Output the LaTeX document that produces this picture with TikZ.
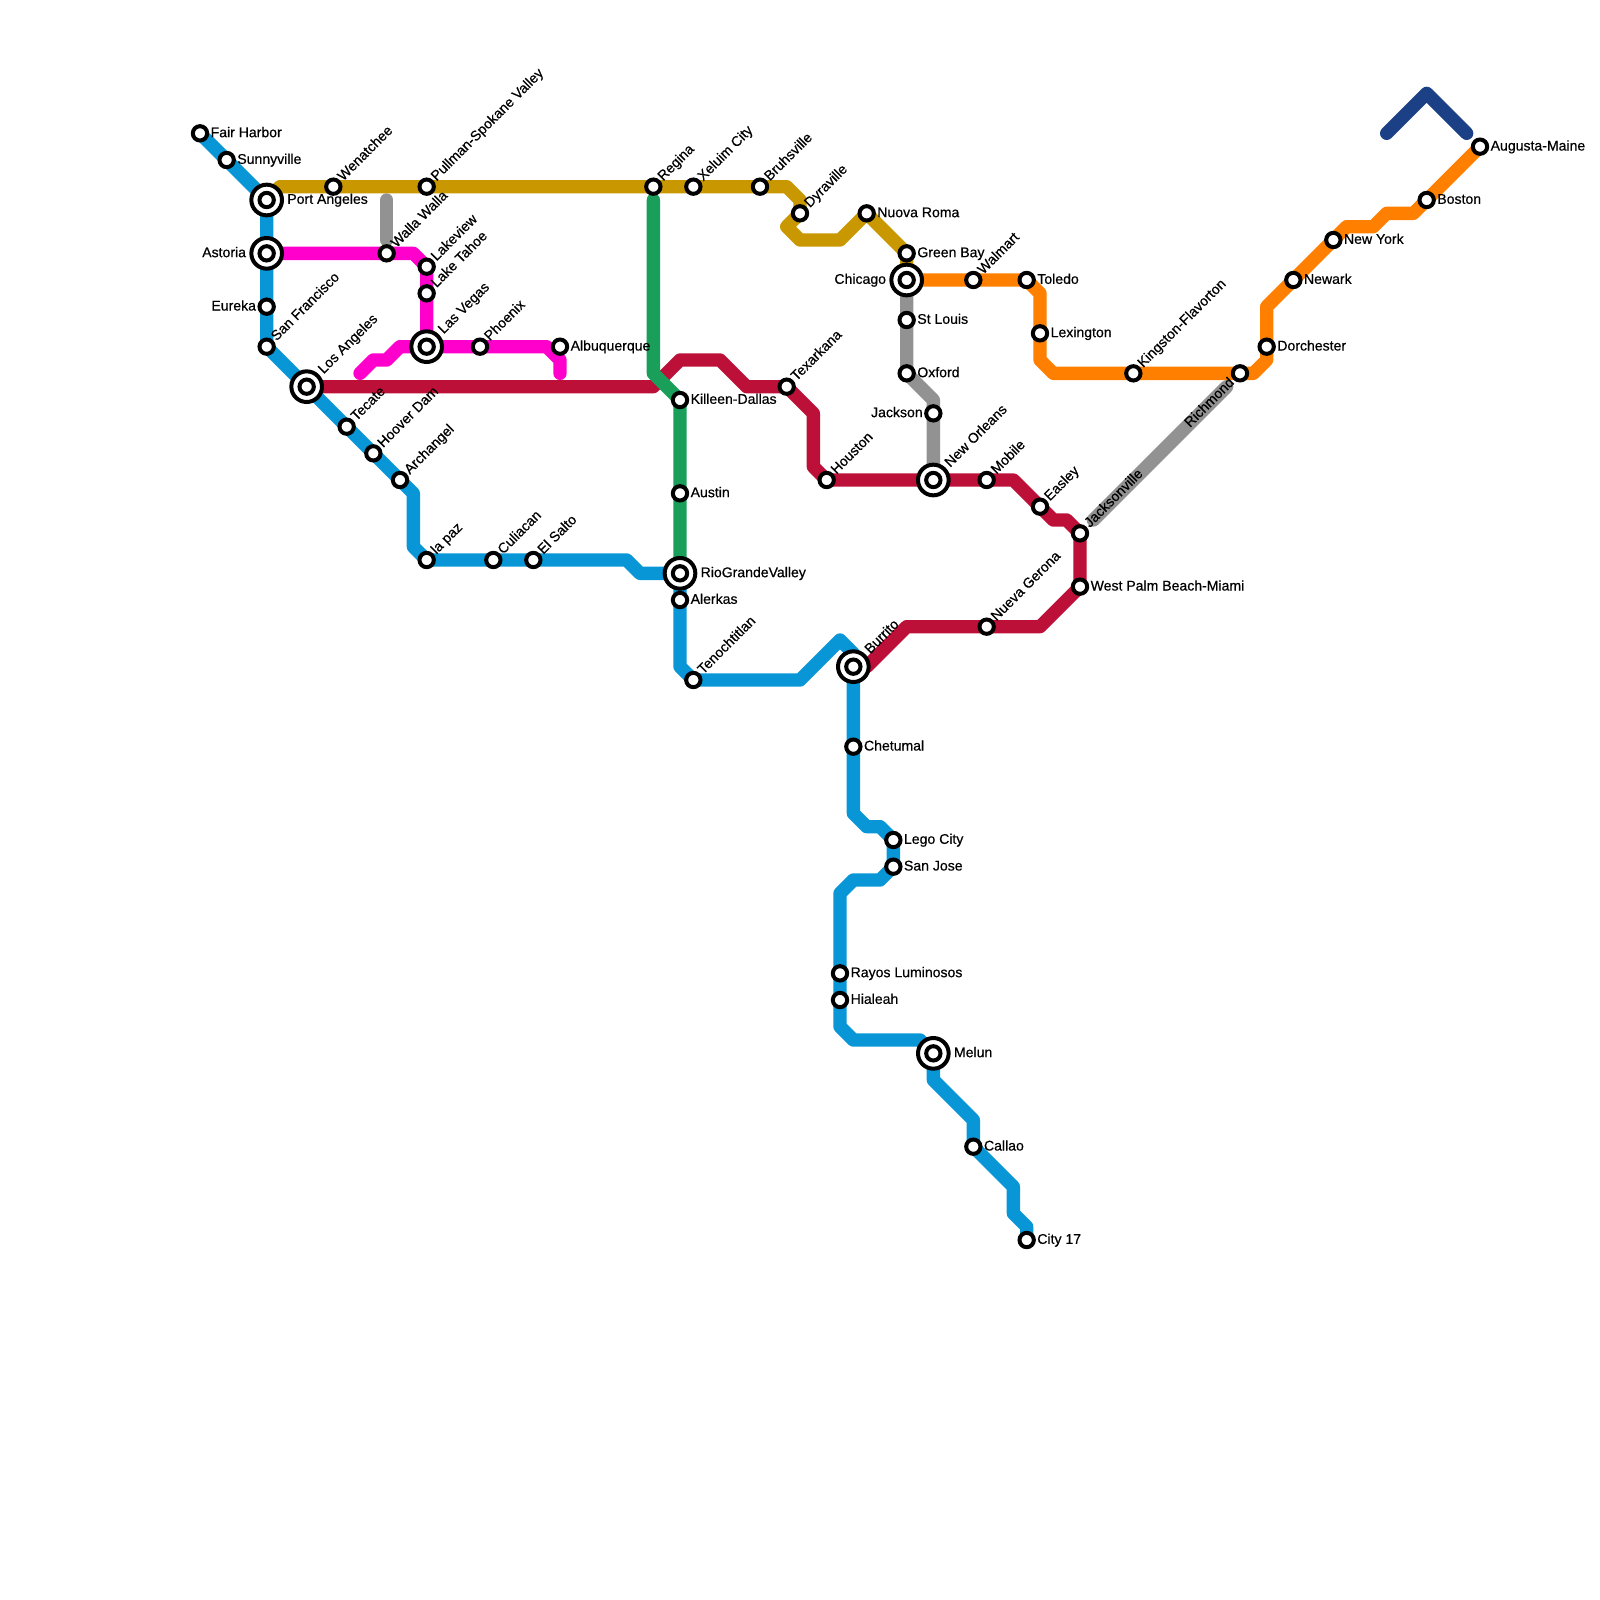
\documentclass[tikz,border=0pt]{standalone}
\usepackage{fontspec}
\setmainfont[FakeBold=0.5]{Liberation Sans}
\usepackage{xcolor}
\usetikzlibrary{backgrounds}
\definecolor{lblue}{HTML}{0896D7}
\definecolor{lgold}{HTML}{C99700}
\definecolor{lpink}{HTML}{FF00CC}
\definecolor{lred}{HTML}{BD1038}
\definecolor{lgreen}{HTML}{1A9F5A}
\definecolor{lgray}{HTML}{929292}
\definecolor{lorange}{HTML}{FF8000}
\definecolor{lnavy}{HTML}{1B4086}
\begin{document}
\begin{tikzpicture}[
      x=0.4cm,y=-0.4cm,
      route/.style={line width=0.4cm,line cap=round,line join=round},
      stn/.style={circle,draw=black,fill=white,line width=0.12cm,minimum size=0.43cm,inner sep=0pt},
      hub/.style={stn,minimum size=0.92cm},
      txt/.style={inner sep=0pt,outer sep=0pt,font=\fontsize{12}{14}\selectfont},
      rtext/.style={txt,anchor=base west,xshift=0.32cm,yshift=-0.115cm},
      rhub/.style={txt,anchor=base west,xshift=0.62cm,yshift=-0.115cm},
      ltext/.style={txt,anchor=base east,xshift=-0.32cm,yshift=-0.115cm},
      lhub/.style={txt,anchor=base east,xshift=-0.62cm,yshift=-0.115cm},
      utext/.style={txt,anchor=base west,rotate=45,xshift=0.32cm,yshift=-0.1cm},
      uhub/.style={txt,anchor=base west,rotate=45,xshift=0.62cm,yshift=-0.1cm},
      dtext/.style={txt,anchor=base east,rotate=45,xshift=-0.32cm,yshift=-0.1cm}
    ]
    \useasboundingbox (0,0) rectangle (120,120);

    % west coast
    \node[stn] (fair) at (15,10) {}; \node[rtext] (fairt) at (fair) {Fair Harbor};
    \node[stn] (sunny) at (17,12) {}; \node[rtext] (sunnyt) at (sunny) {Sunnyville};
    \node[hub] (porth) at (20,15) {}; \node[stn] (port) at (porth) {}; \node[rhub] (portt) at (port) {Port Angeles};
    \node[hub] (astoh) at (20,19) {}; \node[stn] (asto) at (astoh) {}; \node[lhub] (astot) at (asto) {Astoria};
    \node[stn] (eureka) at (20,23) {}; \node[ltext] (eurekat) at (eureka) {Eureka};
    \node[stn] (sanfr) at (20,26) {}; \node[utext] (sanfrt) at (sanfr) {San Francisco};
    \node[hub] (losah) at (23,29) {}; \node[stn] (losa) at (losah) {}; \node[uhub] (losat) at (losa) {Los Angeles};
    \node[stn] (tecate) at (26,32) {}; \node[utext] (tecatet) at (tecate) {Tecate};
    \node[stn] (hoover) at (28,34) {}; \node[utext] (hoovert) at (hoover) {Hoover Dam};
    \node[stn] (archa) at (30,36) {}; \node[utext] (archat) at (archa) {Archangel};
    \node[stn] (lapaz) at (32,42) {}; \node[utext] (lapazt) at (lapaz) {la paz};
    \node[stn] (culia) at (37,42) {}; \node[utext] (culiat) at (culia) {Culiacan};
    \node[stn] (salto) at (40,42) {}; \node[utext] (saltot) at (salto) {El Salto};

    % northern route
    \node[stn] (wenat) at (25,14) {}; \node[utext] (wenatt) at (wenat) {Wenatchee};
    \node[stn] (pullm) at (32,14) {}; \node[utext] (pullmt) at (pullm) {Pullman-Spokane Valley};
    \node[stn] (regina) at (49,14) {}; \node[utext] (reginat) at (regina) {Regina};
    \node[stn] (xeluim) at (52,14) {}; \node[utext] (xeluimt) at (xeluim) {Xeluim City};
    \node[stn] (bruhs) at (57,14) {}; \node[utext] (bruhst) at (bruhs) {Bruhsville};
    \node[stn] (dyra) at (60,16) {}; \node[utext] (dyrat) at (dyra) {Dyraville};
    \node[stn] (nuova) at (65,16) {}; \node[rtext] (nuovat) at (nuova) {Nuova Roma};
    \node[stn] (green) at (68,19) {}; \node[rtext] (greent) at (green) {Green Bay};
    \node[hub] (chich) at (68,21) {}; \node[stn] (chic) at (chich) {}; \node[lhub] (chict) at (chic) {Chicago};

    % pink route
    \node[stn] (walla) at (29,19) {}; \node[utext] (wallat) at (walla) {Walla Walla};
    \node[stn] (lakev) at (32,20) {}; \node[utext] (lakevt) at (lakev) {Lakeview};
    \node[stn] (laket) at (32,22) {}; \node[utext] (lakett) at (laket) {Lake Tahoe};
    \node[hub] (vegash) at (32,26) {}; \node[stn] (vegas) at (vegash) {}; \node[uhub] (vegast) at (vegas) {Las Vegas};
    \node[stn] (phoen) at (36,26) {}; \node[utext] (phoent) at (phoen) {Phoenix};
    \node[stn] (albuq) at (42,26) {}; \node[rtext] (albuqt) at (albuq) {Albuquerque};

    % texas and gulf
    \node[stn] (killeen) at (51,30) {}; \node[rtext] (killeent) at (killeen) {Killeen-Dallas};
    \node[stn] (austin) at (51,37) {}; \node[rtext] (austint) at (austin) {Austin};
    \node[hub] (rioh) at (51,43) {}; \node[stn] (rio) at (rioh) {}; \node[rhub] (riot) at (rio) {RioGrandeValley};
    \node[stn] (alerk) at (51,45) {}; \node[rtext] (alerkt) at (alerk) {Alerkas};
    \node[stn] (tenoc) at (52,51) {}; \node[utext] (tenoct) at (tenoc) {Tenochtitlan};
    \node[stn] (texar) at (59,29) {}; \node[utext] (texart) at (texar) {Texarkana};
    \node[stn] (houst) at (62,36) {}; \node[utext] (houstt) at (houst) {Houston};
    \node[stn] (stlou) at (68,24) {}; \node[rtext] (stlout) at (stlou) {St Louis};
    \node[stn] (oxford) at (68,28) {}; \node[rtext] (oxfordt) at (oxford) {Oxford};
    \node[stn] (jacks) at (70,31) {}; \node[ltext] (jackst) at (jacks) {Jackson};
    \node[hub] (neworh) at (70,36) {}; \node[stn] (newor) at (neworh) {}; \node[uhub] (newort) at (newor) {New Orleans};
    \node[stn] (mobile) at (74,36) {}; \node[utext] (mobilet) at (mobile) {Mobile};
    \node[stn] (easley) at (78,38) {}; \node[utext] (easleyt) at (easley) {Easley};
    \node[stn] (jaxon) at (81,40) {}; \node[utext] (jaxont) at (jaxon) {Jacksonville};
    \node[stn] (wpalm) at (81,44) {}; \node[rtext] (wpalmt) at (wpalm) {West Palm Beach-Miami};
    \node[stn] (nueva) at (74,47) {}; \node[utext] (nuevat) at (nueva) {Nueva Gerona};

    % south
    \node[hub] (burrh) at (64,50) {}; \node[stn] (burr) at (burrh) {}; \node[uhub] (burrt) at (burr) {Burrito};
    \node[stn] (chetu) at (64,56) {}; \node[rtext] (chetut) at (chetu) {Chetumal};
    \node[stn] (lego) at (67,63) {}; \node[rtext] (legot) at (lego) {Lego City};
    \node[stn] (sjose) at (67,65) {}; \node[rtext] (sjoset) at (sjose) {San Jose};
    \node[stn] (rayos) at (63,73) {}; \node[rtext] (rayost) at (rayos) {Rayos Luminosos};
    \node[stn] (hial) at (63,75) {}; \node[rtext] (hialt) at (hial) {Hialeah};
    \node[hub] (melunh) at (70,79) {}; \node[stn] (melun) at (melunh) {}; \node[rhub] (melunt) at (melun) {Melun};
    \node[stn] (callao) at (73,86) {}; \node[rtext] (callaot) at (callao) {Callao};
    \node[stn] (city) at (77,93) {}; \node[rtext] (cityt) at (city) {City 17};

    % east
    \node[stn] (walm) at (73,21) {}; \node[utext] (walmt) at (walm) {Walmart};
    \node[stn] (toledo) at (77,21) {}; \node[rtext] (toledot) at (toledo) {Toledo};
    \node[stn] (lexin) at (78,25) {}; \node[rtext] (lexint) at (lexin) {Lexington};
    \node[stn] (kings) at (85,28) {}; \node[utext] (kingst) at (kings) {Kingston-Flavorton};
    \node[stn] (richm) at (93,28) {}; \node[dtext] (richmt) at (richm) {Richmond};
    \node[stn] (dorch) at (95,26) {}; \node[rtext] (dorcht) at (dorch) {Dorchester};
    \node[stn] (newark) at (97,21) {}; \node[rtext] (newarkt) at (newark) {Newark};
    \node[stn] (newyo) at (100,18) {}; \node[rtext] (newyot) at (newyo) {New York};
    \node[stn] (boston) at (107,15) {}; \node[rtext] (bostont) at (boston) {Boston};
    \node[stn] (augus) at (111,11) {}; \node[rtext] (august) at (augus) {Augusta-Maine};

    % free ends
    \coordinate (grayn) at (29,15);
    \coordinate (grays) at (29,18);
    \coordinate (grayj) at (82,39);
    \coordinate (grayr) at (92,29);
    \coordinate (greenn) at (49,15);
    \coordinate (pinkw) at (27,28);
    \coordinate (pinke) at (42,28);
    \coordinate (navyw) at (104,10);
    \coordinate (navye) at (110,10);

    % routes
    \begin{scope}[on background layer]
      \draw[route,lblue] (fair.center) -- (sunny.center) -- (port.center) -- (asto.center) -- (eureka.center)
        -- (sanfr.center) -- (losa.center) -- (tecate.center) -- (hoover.center) -- (archa.center)
        -- (31,37) -- (31,41) -- (lapaz.center) -- (culia.center) -- (salto.center) -- (47,42) -- (48,43)
        -- (rio.center) -- (alerk.center) -- (51,50) -- (tenoc.center) -- (60,51) -- (63,48) -- (64,49)
        -- (burr.center) -- (chetu.center) -- (64,61) -- (65,62) -- (66,62) -- (lego.center) -- (sjose.center)
        -- (66,66) -- (64,66) -- (63,67) -- (rayos.center) -- (hial.center) -- (63,77) -- (64,78) -- (69,78)
        -- (melun.center) -- (70,81) -- (73,84) -- (callao.center) -- (76,89) -- (76,91) -- (77,92) -- (city.center);
      \draw[route,lgold] (port.center) -- (21,14) -- (wenat.center) -- (pullm.center) -- (regina.center)
        -- (xeluim.center) -- (bruhs.center) -- (59,14) -- (60,15) -- (dyra.center) -- (59,17) -- (60,18)
        -- (63,18) -- (nuova.center) -- (green.center) -- (chic.center);
      \draw[route,lpink] (asto.center) -- (walla.center) -- (31,19) -- (lakev.center) -- (laket.center) -- (vegas.center);
      \draw[route,lpink] (pinkw) -- (28,27) -- (29,27) -- (30,26) -- (vegas.center) -- (phoen.center)
        -- (41,26) -- (42,27) -- (pinke);
      \draw[route,lred] (losa.center) -- (49,29) -- (51,27) -- (54,27) -- (56,29) -- (texar.center) -- (61,31)
        -- (61,35) -- (houst.center) -- (newor.center) -- (mobile.center) -- (76,36) -- (easley.center)
        -- (79,39) -- (80,39) -- (jaxon.center) -- (wpalm.center) -- (78,47) -- (nueva.center) -- (68,47) -- (65,50) -- (burr.center);
      \draw[route,lgray] (grayn) -- (grays);
      \draw[route,lgray] (chic.center) -- (stlou.center) -- (oxford.center) -- (70,30) -- (jacks.center) -- (newor.center);
      \draw[route,lgray] (grayj) -- (grayr);
      \draw[route,lgreen] (greenn) -- (49,28) -- (killeen.center) -- (austin.center) -- (rio.center);
      \draw[route,lorange] (chic.center) -- (walm.center) -- (toledo.center) -- (78,22) -- (lexin.center) -- (78,27)
        -- (79,28) -- (kings.center) -- (richm.center) -- (94,28) -- (95,27) -- (dorch.center) -- (95,23)
        -- (newark.center) -- (newyo.center) -- (101,17) -- (103,17) -- (104,16) -- (106,16) -- (boston.center) -- (augus.center);
      \draw[route,lnavy] (navyw) -- (107,7) -- (navye);
    \end{scope}
\end{tikzpicture}
\end{document}
